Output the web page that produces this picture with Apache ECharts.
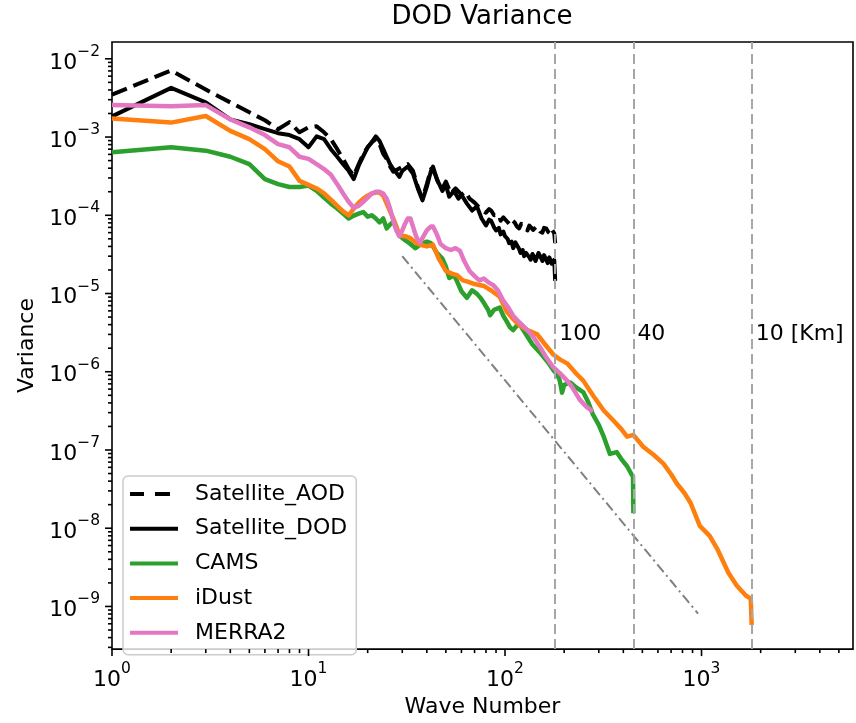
<!DOCTYPE html>
<html><head><meta charset="utf-8">
<script src="https://cdn.jsdelivr.net/npm/echarts@6/dist/echarts.min.js"></script>
<style>html,body{margin:0;padding:0;background:#fff}#c{width:856px;height:723px}</style>
</head><body><div id="c"></div>
<script>
// ---- data (wave number k, variance) ----
const satelliteAOD = [[1,3.49e-3],[2,7.1e-3],[3,4.05e-3],[4,2.77e-3],[5,2.07e-3],[6,1.64e-3],[7,1.26e-3],[8,1.55e-3],[9,1.15e-3],[10,1.33e-3],[11,1.37e-3],[12,1.15e-3],[13,9.4e-4],[14,7.0e-4],[15,5.25e-4],[16,3.9e-4],[17,3.2e-4],[18,4.5e-4],[19,6.1e-4],[20,7.4e-4],[21,8.6e-4],[22,9.4e-4],[23,8.1e-4],[24,6.1e-4],[25,5.25e-4],[26,4.2e-4],[27,3.6e-4],[28,3.8e-4],[30,4.15e-4],[32,4.5e-4],[34,3.7e-4],[36,2.3e-4],[38,1.63e-4],[40,2.5e-4],[42,3.9e-4],[44,3.4e-4],[46,2.5e-4],[48,2.2e-4],[50,2.7e-4],[53,1.9e-4],[56,2.2e-4],[60,1.83e-4],[63,2.0e-4],[66,1.63e-4],[70,1.45e-4],[73,1.3e-4],[75,1.22e-4],[78,1.12e-4],[80,1.08e-4],[83,1.2e-4],[85,1.15e-4],[88,1.0e-4],[90,9.6e-5],[93,1.02e-4],[95,8.5e-5],[98,9.4e-5],[100,9.1e-5],[103,8.2e-5],[106,7.6e-5],[109,8.6e-5],[112,8.1e-5],[115,7.2e-5],[118,6.8e-5],[121,7.8e-5],[124,7.6e-5],[127,6.8e-5],[130,6.4e-5],[133,7.4e-5],[136,7.2e-5],[139,6.5e-5],[142,6.2e-5],[145,7.2e-5],[148,7.0e-5],[151,6.2e-5],[155,6.0e-5],[158,6.9e-5],[162,6.8e-5],[166,6.1e-5],[170,5.8e-5],[173,6.6e-5],[176,6.4e-5],[178,5.9e-5],[180,4.4e-5]];
const satelliteDOD = [[1,1.84e-3],[2,4.25e-3],[3,2.77e-3],[4,1.68e-3],[5,1.46e-3],[6,1.26e-3],[7,1.12e-3],[8,1.06e-3],[9,9.4e-4],[10,7.4e-4],[11,1.02e-3],[12,9.4e-4],[13,7.0e-4],[14,5.6e-4],[15,4.5e-4],[16,3.7e-4],[17,2.9e-4],[18,4.3e-4],[19,5.7e-4],[20,7.4e-4],[21,8.6e-4],[22,1.02e-3],[23,8.9e-4],[24,7.0e-4],[25,5.6e-4],[26,4.5e-4],[27,3.9e-4],[28,3.5e-4],[29,3.1e-4],[30,3.7e-4],[32,4.2e-4],[34,3.4e-4],[36,2.2e-4],[38,1.55e-4],[40,2.3e-4],[42,3.7e-4],[43,4.2e-4],[45,2.9e-4],[48,2.05e-4],[50,2.45e-4],[52,1.73e-4],[55,2.05e-4],[58,1.63e-4],[60,1.83e-4],[64,1.41e-4],[68,1.15e-4],[72,1.3e-4],[76,9.1e-5],[80,7.4e-5],[83,8.8e-5],[85,8.5e-5],[88,7.0e-5],[90,6.4e-5],[93,6.9e-5],[95,5.7e-5],[98,6.2e-5],[100,5.4e-5],[103,5.0e-5],[105,4.4e-5],[108,4.6e-5],[110,3.8e-5],[113,4.5e-5],[115,4.3e-5],[118,3.7e-5],[120,3.3e-5],[123,3.6e-5],[125,3.0e-5],[128,3.3e-5],[130,3.4e-5],[133,2.9e-5],[135,2.7e-5],[138,3.2e-5],[140,3.0e-5],[143,2.6e-5],[145,2.7e-5],[148,3.3e-5],[150,3.2e-5],[153,2.8e-5],[155,2.6e-5],[158,3.1e-5],[160,3.0e-5],[163,2.6e-5],[165,2.45e-5],[168,2.9e-5],[170,2.85e-5],[173,2.4e-5],[175,2.3e-5],[178,2.7e-5],[180,1.45e-5]];
const cams = [[1,6.4e-4],[2,7.4e-4],[3,6.7e-4],[4,5.6e-4],[5,4.5e-4],[6,2.9e-4],[7,2.5e-4],[8,2.3e-4],[9,2.3e-4],[10,2.4e-4],[11,2.05e-4],[12,1.68e-4],[13,1.41e-4],[14,1.22e-4],[15,1.05e-4],[16,9.1e-5],[17,9.9e-5],[18,1.05e-4],[19,1.1e-4],[20,9.6e-5],[21,1.0e-4],[22,9.1e-5],[23,8.1e-5],[24,9.1e-5],[25,6.8e-5],[26,7.6e-5],[27,8.3e-5],[28,6.8e-5],[29,5.5e-5],[31,4.8e-5],[33,4.3e-5],[35,3.8e-5],[37,4.2e-5],[40,4.6e-5],[42,4.4e-5],[45,3.3e-5],[48,2.8e-5],[50,2.2e-5],[52,1.58e-5],[55,1.72e-5],[57,1.43e-5],[60,1.07e-5],[64,8.8e-6],[68,1.1e-5],[72,9.9e-6],[75,8.8e-6],[78,7.6e-6],[82,6.2e-6],[84,5.3e-6],[88,6.2e-6],[94,6.6e-6],[98,5.2e-6],[102,4.4e-6],[106,3.7e-6],[110,3.4e-6],[115,3.9e-6],[119,4.0e-6],[128,3.0e-6],[138,2.23e-6],[150,1.78e-6],[165,1.33e-6],[176,1.05e-6],[185,9.1e-7],[190,7.7e-7],[195,5.4e-7],[200,6.8e-7],[215,7.3e-7],[230,6.3e-7],[250,5.5e-7],[265,4.1e-7],[280,2.85e-7],[300,2.1e-7],[318,1.48e-7],[342,8.9e-8],[370,9.4e-8],[390,7.7e-8],[418,6.2e-8],[440,4.9e-8],[448,4.6e-8],[450,1.55e-8]];
const iDust = [[1,1.73e-3],[2,1.53e-3],[3,1.86e-3],[4,1.2e-3],[5,9.4e-4],[6,7.0e-4],[7,4.9e-4],[8,4.2e-4],[9,2.75e-4],[10,2.45e-4],[11,2.2e-4],[12,1.9e-4],[13,1.58e-4],[14,1.32e-4],[15,1.12e-4],[16,1.0e-4],[17,1.22e-4],[18,1.45e-4],[19,1.63e-4],[20,1.78e-4],[21,1.9e-4],[22,1.95e-4],[23,1.95e-4],[24,1.78e-4],[25,1.41e-4],[26,1.12e-4],[27,9.1e-5],[28,7.2e-5],[29,5.5e-5],[31,5.4e-5],[33,5.1e-5],[35,4.5e-5],[37,4.2e-5],[40,4.0e-5],[43,4.2e-5],[46,2.8e-5],[50,1.94e-5],[54,1.78e-5],[57,1.72e-5],[61,1.47e-5],[64,1.43e-5],[70,1.32e-5],[78,1.25e-5],[86,1.07e-5],[94,9.1e-6],[102,5.9e-6],[110,4.7e-6],[119,3.9e-6],[130,3.4e-6],[146,3.0e-6],[160,2.23e-6],[176,1.66e-6],[190,1.44e-6],[207,1.28e-6],[232,9.3e-7],[250,7.7e-7],[280,5.0e-7],[318,3.2e-7],[355,2.4e-7],[390,1.86e-7],[418,1.48e-7],[450,1.56e-7],[505,1.1e-7],[570,8.7e-8],[640,6.7e-8],[700,4.9e-8],[750,3.7e-8],[820,2.8e-8],[880,2.1e-8],[980,1.07e-8],[1100,8.0e-9],[1200,5.5e-9],[1370,2.7e-9],[1510,1.85e-9],[1680,1.38e-9],[1780,1.26e-9],[1800,5.8e-10]];
const merra2 = [[1,2.56e-3],[2,2.48e-3],[3,2.56e-3],[4,1.68e-3],[5,1.33e-3],[6,1.06e-3],[7,8.1e-4],[8,7.4e-4],[9,5.6e-4],[10,5.25e-4],[11,4.5e-4],[12,3.9e-4],[13,3.3e-4],[14,2.5e-4],[15,1.9e-4],[16,1.49e-4],[17,1.25e-4],[18,1.32e-4],[19,1.49e-4],[20,1.68e-4],[21,1.9e-4],[22,2.0e-4],[23,2.0e-4],[24,1.9e-4],[25,1.63e-4],[26,1.22e-4],[27,8.5e-5],[28,6.4e-5],[29,5.4e-5],[30,6.4e-5],[31,7.8e-5],[32,9.1e-5],[33,9.1e-5],[34,7.2e-5],[35,5.7e-5],[36,4.8e-5],[37,4.5e-5],[38,5.1e-5],[40,6.4e-5],[42,7.2e-5],[43,7.2e-5],[45,5.7e-5],[47,4.3e-5],[50,3.8e-5],[53,3.6e-5],[56,3.8e-5],[59,3.5e-5],[62,2.6e-5],[66,1.94e-5],[70,1.67e-5],[74,1.47e-5],[78,1.55e-5],[82,1.4e-5],[87,1.28e-5],[92,1.1e-5],[98,8.1e-6],[104,6.6e-6],[110,5.2e-6],[118,4.3e-6],[130,3.4e-6],[140,2.75e-6],[151,2.05e-6],[162,1.53e-6],[176,1.14e-6],[190,9.6e-7],[207,7.7e-7],[220,6.3e-7],[240,4.4e-7],[260,3.55e-7],[280,3.1e-7]];
const slopeRef = [[30,3.0e-5],[960,8.1e-10]];
const scaleK = [180, 450, 1800];
const scaleLabels = ['100', '40', '10 [Km]'];
const scaleLabelY = 3.0e-6;
const seriesNames = ['Satellite_AOD','Satellite_DOD','CAMS','iDust','MERRA2'];
const X_MIN = 1, X_MAX = 5900, Y_MIN = 2.85e-10, Y_MAX = 1.64e-2;

const FONT = 'DejaVu Sans';
const FS = 22;
const xMajor = [1, 10, 100, 1000];
const yMajor = [1e-9,1e-8,1e-7,1e-6,1e-5,1e-4,1e-3,1e-2];
function minorTicks(lo, hi) {
  const out = [];
  for (let e = -12; e <= 5; e++) for (let m = 2; m <= 9; m++) {
    const v = m * Math.pow(10, e);
    if (v > lo && v < hi) out.push(v);
  }
  return out;
}
function supLabel(value) {
  const e = Math.log10(value);
  const r = Math.round(e);
  if (Math.abs(e - r) > 1e-6) return '';
  return '{b|10}{s|' + (r < 0 ? '\u2212' + (-r) : r) + '}';
}
const richSup = {
  b: {fontSize: FS, fontFamily: FONT, color: '#000', lineHeight: 30, verticalAlign: 'bottom'},
  s: {fontSize: 15.5, fontFamily: FONT, color: '#000', lineHeight: 16, verticalAlign: 'top'}
};
function tickSeries(values, axis, len) {
  return {
    type: 'custom', silent: true, clip: false, z: 10,
    data: values.map(v => axis === 'x' ? [v, Y_MAX] : [X_MIN, v]),
    renderItem(params, api) {
      const cs = params.coordSys;
      if (axis === 'x') {
        const x = api.coord([api.value(0), Y_MAX])[0];
        const y0 = cs.y + cs.height;
        return {type: 'line', shape: {x1: x, y1: y0, x2: x, y2: y0 + len}, style: {stroke: '#000', lineWidth: 1.6}};
      }
      const y = api.coord([X_MIN, api.value(1)])[1];
      return {type: 'line', shape: {x1: cs.x, y1: y, x2: cs.x - len, y2: y}, style: {stroke: '#000', lineWidth: 1.6}};
    }
  };
}
function lineSeries(name, data, color, width, dash) {
  return {
    name, type: 'line', data, showSymbol: false, symbol: 'none',
    lineStyle: {color, width, type: dash || 'solid', join: 'round'}, itemStyle: {color},
    emphasis: {disabled: true}
  };
}
const SOLID_ICON = 'path://M0,0h48v4h-48z';
const DASH_ICON = 'path://M0,0h14v4h-14zM25,0h15v4h-15zM47.9,1.9h0.1v0.2h-0.1z';

const chart = echarts.init(document.getElementById('c'), null, {renderer: 'canvas'});
chart.setOption({
  animation: false,
  backgroundColor: '#fff',
  title: {
    text: 'DOD Variance', left: 482, top: 4, textAlign: 'center', padding: 0,
    textStyle: {fontSize: 26, fontWeight: 'normal', color: '#000', fontFamily: FONT}
  },
  grid: {left: 112, right: 3, top: 42, bottom: 69, show: true, borderColor: '#000', borderWidth: 1.6, backgroundColor: 'transparent'},
  legend: {
    data: seriesNames.map((n, i) => ({name: n, icon: i === 0 ? DASH_ICON : SOLID_ICON})),
    orient: 'vertical', left: 123, top: 476,
    padding: [7, 9, 11, 7], itemGap: 12.7, itemWidth: 48, itemHeight: 4,
    backgroundColor: 'rgba(255,255,255,0.8)', borderColor: '#cccccc', borderWidth: 1.5, borderRadius: 5,
    textStyle: {fontSize: FS, color: '#000', fontFamily: FONT, lineHeight: 20, padding: [0, 0, 0, 12]},
    selectedMode: false
  },
  xAxis: {
    type: 'log', logBase: 10, min: X_MIN, max: X_MAX,
    name: 'Wave Number', nameLocation: 'middle', nameGap: 41,
    nameTextStyle: {fontSize: FS, color: '#000', fontFamily: FONT},
    axisLine: {show: false}, axisTick: {show: false}, splitLine: {show: false}, minorTick: {show: false},
    axisLabel: {formatter: supLabel, rich: richSup, margin: 12, color: '#000'}
  },
  yAxis: {
    type: 'log', logBase: 10, min: Y_MIN, max: Y_MAX,
    name: 'Variance', nameLocation: 'middle', nameGap: 66, nameRotate: 90,
    nameTextStyle: {fontSize: FS, color: '#000', fontFamily: FONT},
    axisLine: {show: false}, axisTick: {show: false}, splitLine: {show: false}, minorTick: {show: false},
    axisLabel: {formatter: supLabel, rich: richSup, margin: 12, color: '#000'}
  },
  series: [
    lineSeries('Satellite_AOD', satelliteAOD, '#000000', 4, [16, 7]),
    lineSeries('Satellite_DOD', satelliteDOD, '#000000', 4),
    lineSeries('CAMS', cams, '#2ca02c', 4.5),
    lineSeries('iDust', iDust, '#ff7f0e', 4.5),
    lineSeries('MERRA2', merra2, '#e377c2', 4.5),
    {
      type: 'line', data: slopeRef, showSymbol: false, symbol: 'none', silent: true,
      lineStyle: {color: '#808080', width: 2, type: [10, 4, 2, 4]},
      markLine: {
        silent: true, symbol: ['none', 'none'], label: {show: false},
        lineStyle: {color: '#a6a6a6', width: 2, type: [10, 5]},
        data: scaleK.map(k => ({xAxis: k}))
      }
    },
    {
      type: 'custom', silent: true, clip: false, z: 12,
      data: scaleK.map(k => [k, scaleLabelY]),
      renderItem(params, api) {
        const p = api.coord([api.value(0), api.value(1)]);
        return {
          type: 'text', x: p[0] + 4, y: p[1],
          style: {text: scaleLabels[params.dataIndex], fill: '#000', fontSize: FS, fontFamily: FONT,
            align: 'left', verticalAlign: 'middle'}
        };
      }
    },
    tickSeries(xMajor, 'x', 7),
    tickSeries(minorTicks(X_MIN, X_MAX), 'x', 4),
    tickSeries(yMajor, 'y', 7),
    tickSeries(minorTicks(Y_MIN, Y_MAX), 'y', 4)
  ]
});
</script></body></html>
